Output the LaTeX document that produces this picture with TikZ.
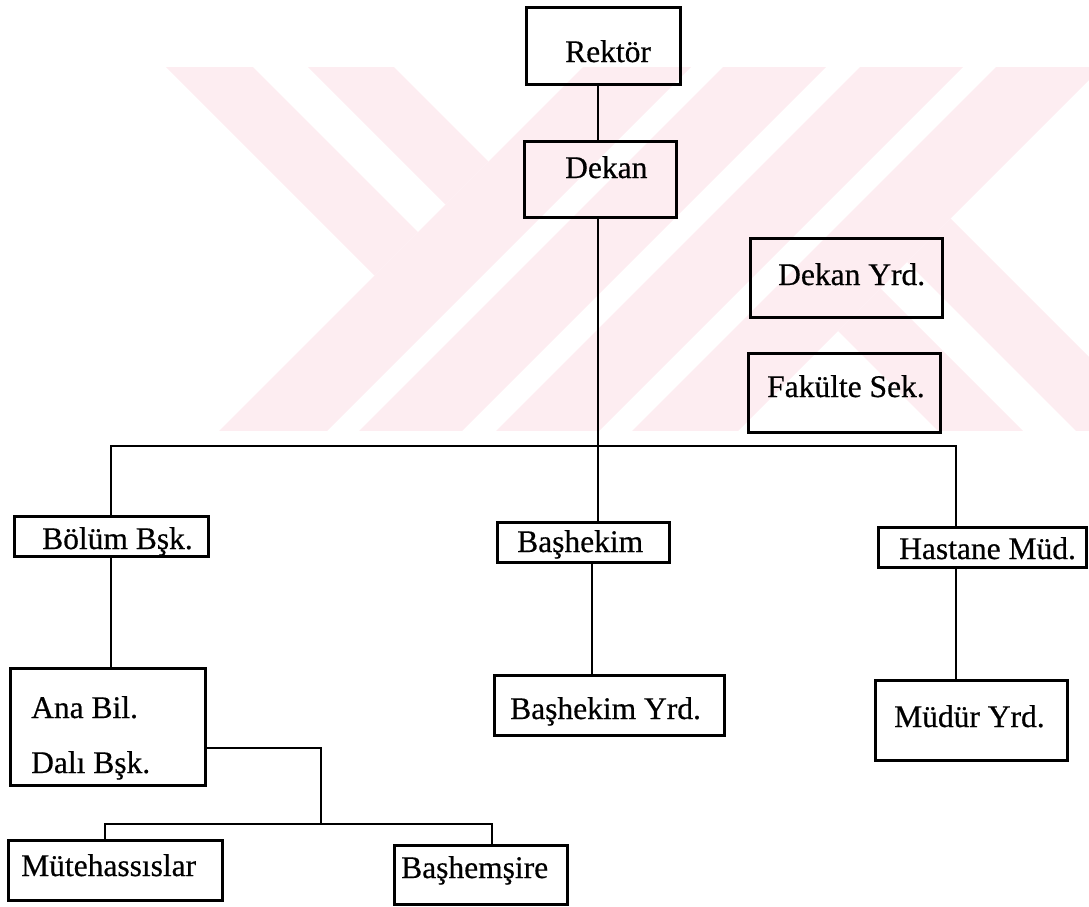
\documentclass[tikz,border=0pt]{standalone}
\usepackage{fontspec}
\setmainfont{Liberation Serif}
\newfontfamily\labelfont{Liberation Serif}[FakeBold=0.5]
\definecolor{logopink}{RGB}{253,237,241}
\begin{document}
\begin{tikzpicture}[x=1pt,y=-1pt,
  box/.style={draw=black, line width=3pt, rectangle, inner sep=0pt, outer sep=0pt},
  lbl/.style={anchor=base west, inner sep=0pt, font=\labelfont\fontsize{31.5}{36}\selectfont},
  link/.style={draw=black, line width=2.4pt},
  band/.style={fill=logopink, draw=none}]
\useasboundingbox (0,0) rectangle (1089,906);

% pale background logo made of diagonal bands
\begin{scope}
  \clip (0,67) rectangle (1089,430);
  \foreach \a/\b in {650/758,790/893,927/1030,1063/1169}
    \fill[band] (\a,0) -- (\b,0) -- (\b-500,500) -- (\a-500,500) -- cycle;
  % upper-left bands ending on the first rising band
  \fill[band] (99,0) -- (186,0) -- (418,232) -- (374.5,275.5) -- cycle;
  \fill[band] (241,0) -- (327,0) -- (488.5,161.5) -- (445.5,204.5) -- cycle;
  % lower-right bands starting at the last rising band
  \fill[band] (838,331) -- (880.5,288.5) -- (1092,500) -- (1007,500) -- cycle;
  \fill[band] (907,262) -- (950.5,218.5) -- (1232,500) -- (1145,500) -- cycle;
\end{scope}

% boxes
\node[box, minimum width=154pt, minimum height=77pt] (rektor)      at (603,45.5)  {};
\node[box, minimum width=152pt, minimum height=76pt] (dekan)       at (600,179)   {};
\node[box, minimum width=192pt, minimum height=79pt] (dekanyrd)    at (846,277.5) {};
\node[box, minimum width=192pt, minimum height=79pt] (fakulte)     at (844,392.5) {};
\node[box, minimum width=194pt, minimum height=40pt] (bolum)       at (111,536)   {};
\node[box, minimum width=172pt, minimum height=40pt] (bashekim)    at (583,542)   {};
\node[box, minimum width=208pt, minimum height=40pt] (hastane)     at (982,547)   {};
\node[box, minimum width=195pt, minimum height=117pt] (anabil)     at (107.5,726.5) {};
\node[box, minimum width=230pt, minimum height=60pt] (bashekimyrd) at (609,705)   {};
\node[box, minimum width=192pt, minimum height=80pt] (mudur)       at (971,720)   {};
\node[box, minimum width=214pt, minimum height=60pt] (mutehassis)  at (115,870)   {};
\node[box, minimum width=173pt, minimum height=59pt] (bashemsire)  at (480.5,874.5) {};

% labels
\node[lbl] (trektor)      at (565,62)  {Rektör};
\node[lbl] (tdekan)       at (565,178) {Dekan};
\node[lbl] (tdekanyrd)    at (778,285) {Dekan Yrd.};
\node[lbl] (tfakulte)     at (767,397) {Fakülte Sek.};
\node[lbl] (tbolum)       at (42,549)  {Bölüm Bşk.};
\node[lbl] (tbashekim)    at (517,552) {Başhekim};
\node[lbl] (thastane)     at (899,559) {Hastane Müd.};
\node[lbl] (tana)         at (31,718)  {Ana Bil.};
\node[lbl] (tdali)        at (31,773)  {Dalı Bşk.};
\node[lbl] (tbashekimyrd) at (510,719) {Başhekim Yrd.};
\node[lbl] (tmudur)       at (894,727) {Müdür Yrd.};
\node[lbl] (tmutehassis)  at (21,876)  {Mütehassıslar};
\node[lbl] (tbashemsire)  at (401,878) {Başhemşire};

% connectors
\coordinate (axis)  at (598,0);
\coordinate (bar)   at (0,446);
\coordinate (ldrop) at (111,0);
\coordinate (rdrop) at (956,0);
\coordinate (mdrop) at (592,0);
\coordinate (elbow) at (321,748);
\coordinate (subbar) at (0,824);
\coordinate (sl) at (105,0);
\coordinate (sr) at (492,0);

\draw[link] (axis |- rektor.south) -- (axis |- dekan.north);
\draw[link] (axis |- dekan.south) -- (axis |- bashekim.north);
\draw[link] (ldrop |- bolum.north) -- (ldrop |- bar) -- (rdrop |- bar) -- (rdrop |- hastane.north);
\draw[link] (ldrop |- bolum.south) -- (ldrop |- anabil.north);
\draw[link] (mdrop |- bashekim.south) -- (mdrop |- bashekimyrd.north);
\draw[link] (rdrop |- hastane.south) -- (rdrop |- mudur.north);
\draw[link] (anabil.east |- elbow) -- (elbow) -- (elbow |- subbar);
\draw[link] (sl |- mutehassis.north) -- (sl |- subbar) -- (sr |- subbar) -- (sr |- bashemsire.north);
\end{tikzpicture}
\end{document}
